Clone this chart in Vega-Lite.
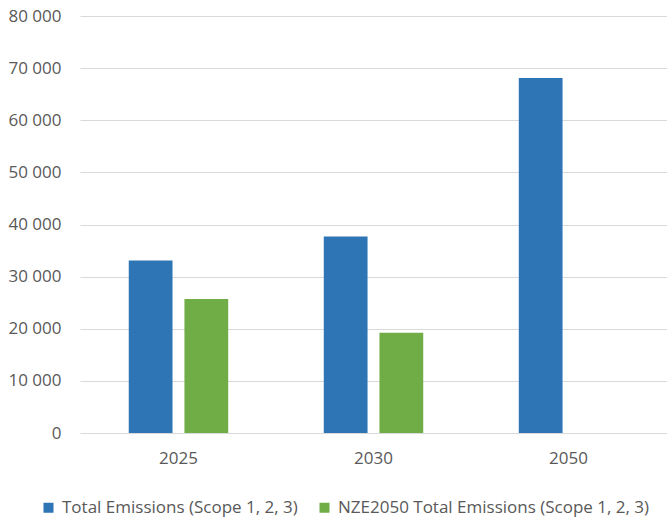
{
  "$schema": "https://vega.github.io/schema/vega-lite/v6.json",
  "autosize": "none",
  "padding": {"left": 80, "top": 16, "right": 0, "bottom": 89},
  "width": 587,
  "height": 417,
  "background": "white",
  "data": {
    "values": [
      {"year": "2025", "series": "Total Emissions (Scope 1, 2, 3)", "value": 33100},
      {"year": "2025", "series": "NZE2050 Total Emissions (Scope 1, 2, 3)", "value": 25700},
      {"year": "2030", "series": "Total Emissions (Scope 1, 2, 3)", "value": 37700},
      {"year": "2030", "series": "NZE2050 Total Emissions (Scope 1, 2, 3)", "value": 19250},
      {"year": "2050", "series": "Total Emissions (Scope 1, 2, 3)", "value": 68100}
    ]
  },
  "mark": {"type": "bar"},
  "encoding": {
    "x": {
      "field": "year",
      "type": "nominal",
      "title": null,
      "scale": {"paddingInner": 0.49, "paddingOuter": 0.25},
      "axis": {
        "labelAngle": 0,
        "domain": false,
        "ticks": false,
        "labelPadding": 17
      }
    },
    "xOffset": {
      "field": "series",
      "type": "nominal",
      "sort": ["Total Emissions (Scope 1, 2, 3)", "NZE2050 Total Emissions (Scope 1, 2, 3)"],
      "scale": {"paddingInner": 0.214, "paddingOuter": 0}
    },
    "y": {
      "field": "value",
      "type": "quantitative",
      "title": null,
      "scale": {"domain": [0, 80000], "nice": false},
      "axis": {
        "values": [0, 10000, 20000, 30000, 40000, 50000, 60000, 70000, 80000],
        "labelExpr": "replace(format(datum.value, ','), ',', ' ')",
        "domain": false,
        "ticks": false,
        "labelPadding": 19,
        "grid": true,
        "gridColor": "#D9D9D9",
        "gridWidth": 1
      }
    },
    "color": {
      "field": "series",
      "type": "nominal",
      "sort": ["Total Emissions (Scope 1, 2, 3)", "NZE2050 Total Emissions (Scope 1, 2, 3)"],
      "scale": {"range": ["#2E75B6", "#70AD47"]},
      "legend": {
        "title": null,
        "orient": "none",
        "direction": "horizontal",
        "legendX": -40,
        "legendY": 483,
        "symbolType": "square",
        "symbolSize": 100,
        "symbolStrokeWidth": 0,
        "labelOffset": 5,
        "columnPadding": 18
      }
    }
  },
  "config": {
    "view": {"stroke": null},
    "axis": {"labelFontSize": 17, "labelColor": "#595959", "labelFont": "Open Sans"},
    "legend": {"labelFontSize": 17, "labelColor": "#595959", "labelFont": "Open Sans", "labelLimit": 400}
  }
}
